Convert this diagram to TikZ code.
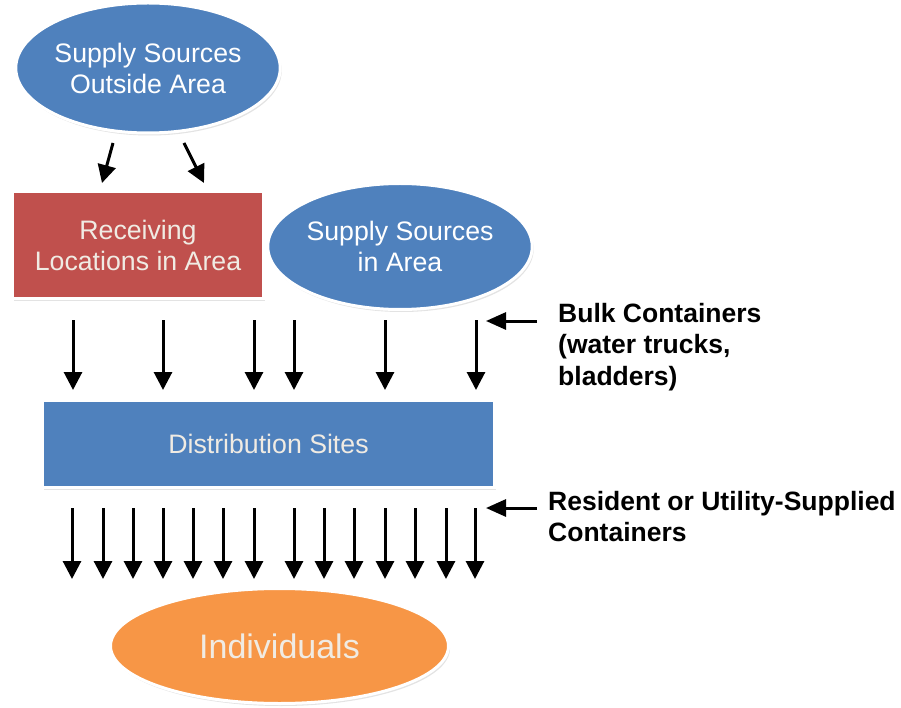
\documentclass[tikz,border=0pt]{standalone}
\usepackage{fontspec}
\setmainfont{Liberation Sans}
\usetikzlibrary{shapes.geometric,shadows,arrows.meta}
\definecolor{pblue}{HTML}{4F81BD}
\definecolor{pred}{HTML}{C0504D}
\definecolor{porange}{HTML}{F79646}
\definecolor{cream}{HTML}{F0EBE3}
\tikzset{
  shape base/.style={draw=white, line width=3pt, inner sep=0pt, align=center,
    drop shadow={opacity=0.22, shadow xshift=1.5pt, shadow yshift=-2.5pt}},
  oval/.style={shape base, ellipse, fill=pblue, text=white,
    font=\fontsize{26.7}{31}\selectfont},
  boxnode/.style={shape base, rectangle, text=cream,
    font=\fontsize{26.7}{31}\selectfont},
  arr/.style={line width=3pt, -{Triangle[width=18pt,length=18pt]}},
  lbl/.style={font=\fontsize{26.5}{31.5}\selectfont\bfseries, align=left,
    inner sep=0pt, anchor=north west, text=black}
}
\begin{document}
\begin{tikzpicture}[x=1pt,y=-1pt]
\useasboundingbox (0,0) rectangle (901,708);
% nodes
\node[oval, minimum width=256pt, minimum height=130pt] (outside) at (148,68)
  {Supply Sources\\Outside Area};
\node[boxnode, fill=pred, minimum width=251pt, minimum height=107pt] (recv) at (138,245)
  {Receiving\\Locations in Area};
\node[oval, minimum width=253pt, minimum height=126pt] (inarea) at (400,246.5)
  {Supply Sources\\in Area};
\node[boxnode, fill=pblue, minimum width=452pt, minimum height=87pt] (dist) at (268.5,444)
  {Distribution Sites};
\node[oval, fill=porange, text=cream, font=\fontsize{34}{40}\selectfont,
  minimum width=338pt, minimum height=115pt] (indiv) at (279.5,646) {Individuals};
% top arrows
\coordinate (t1s) at (113,143); \coordinate (t1e) at (102,183);
\coordinate (t2s) at (184,143); \coordinate (t2e) at (204,183);
\draw[arr] (t1s) -- (t1e);
\draw[arr] (t2s) -- (t2e);
% middle arrows
\foreach \x [count=\i] in {73,163,254,294,385,476} {
  \coordinate (m\i s) at (\x,320);
  \coordinate (m\i e) at (\x,390);
  \draw[arr] (m\i s) -- (m\i e);
}
% bottom arrows
\foreach \x [count=\i] in {72,103,133,163,193,223,254,294,324,354,385,415,446,475} {
  \coordinate (b\i s) at (\x,508);
  \coordinate (b\i e) at (\x,579);
  \draw[arr] (b\i s) -- (b\i e);
}
% labels
\node[lbl] (bulk) at (558,303) {Bulk Containers\\(water trucks,\\bladders)};
\node[lbl] (resident) at (548,491) {Resident or Utility-Supplied\\Containers};
\coordinate (bulkA) at (537,321); \coordinate (bulkB) at (486,321);
\coordinate (resA) at (537,508); \coordinate (resB) at (486,508);
\draw[line width=3pt, -{Triangle[width=17pt,length=20pt]}] (bulkA) -- (bulkB);
\draw[line width=3pt, -{Triangle[width=17pt,length=20pt]}] (resA) -- (resB);
\end{tikzpicture}
\end{document}
